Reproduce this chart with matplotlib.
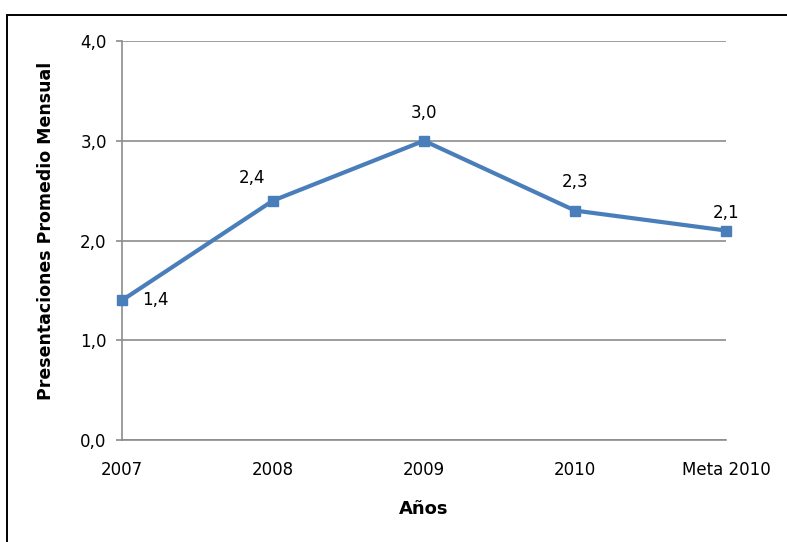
import matplotlib
matplotlib.use("Agg")
import matplotlib.pyplot as plt
from matplotlib.patches import Rectangle
from matplotlib.ticker import FuncFormatter

categories = ["2007", "2008", "2009", "2010", "Meta 2010"]
values = [1.4, 2.4, 3.0, 2.3, 2.1]
yticks = [0.0, 1.0, 2.0, 3.0, 4.0]

plt.rcParams['font.family'] = ['DejaVu Sans']

fig = plt.figure(figsize=(7.87, 5.42), dpi=100)
ax = fig.add_axes([122/787, 1-440/542, (726-122)/787, (440-41)/542])

x = list(range(len(categories)))
color = "#4A7EBB"
ax.plot(x, values, color=color, lw=3.0, marker='s', markersize=6.5,
        markerfacecolor=color, markeredgecolor=color, zorder=3, clip_on=False)

fmt = lambda v: f"{v:.1f}".replace(".", ",")
offsets = [(20, 0, 'left', 'center'), (-21, 23, 'center', 'center'),
           (0, 28, 'center', 'center'), (0, 29, 'center', 'center'),
           (0, 18, 'center', 'center')]
for xi, v, (dx, dy, ha, va) in zip(x, values, offsets):
    ax.annotate(fmt(v), (xi, v), xytext=(dx*0.72, dy*0.72), textcoords='offset points',
                ha=ha, va=va, fontsize=12, color='black')

ax.set_xlim(0, 4)
ax.set_ylim(0, 4)
ax.set_yticks(yticks)
ax.yaxis.set_major_formatter(FuncFormatter(lambda v, p: fmt(v)))
ax.set_xticks(x)
ax.set_xticklabels(categories)
ax.grid(axis='y', color='#8C8C8C', lw=1.2)
ax.set_axisbelow(True)
for s in ['top', 'right']:
    ax.spines[s].set_visible(False)
for s in ['left', 'bottom']:
    ax.spines[s].set_color('#8C8C8C')
    ax.spines[s].set_linewidth(1.2)
ax.tick_params(axis='y', length=4, color='#8C8C8C', width=1.2, labelsize=12, pad=7)
ax.tick_params(axis='x', length=0, labelsize=12, pad=15)

ax.set_xlabel("Años", fontsize=13, fontweight='bold', labelpad=15)
ax.set_ylabel("Presentaciones Promedio Mensual", fontsize=12.5, fontweight='bold')
ax.yaxis.set_label_coords(-(122 - 55) / 604, (440 - 231) / 399)

fig.patches.append(Rectangle((7/787, -0.05), 1.1, 1 - 15/542 + 0.05, transform=fig.transFigure,
                             fill=False, edgecolor='black', lw=1.4, zorder=10))

fig.savefig("out.png", dpi=100)
